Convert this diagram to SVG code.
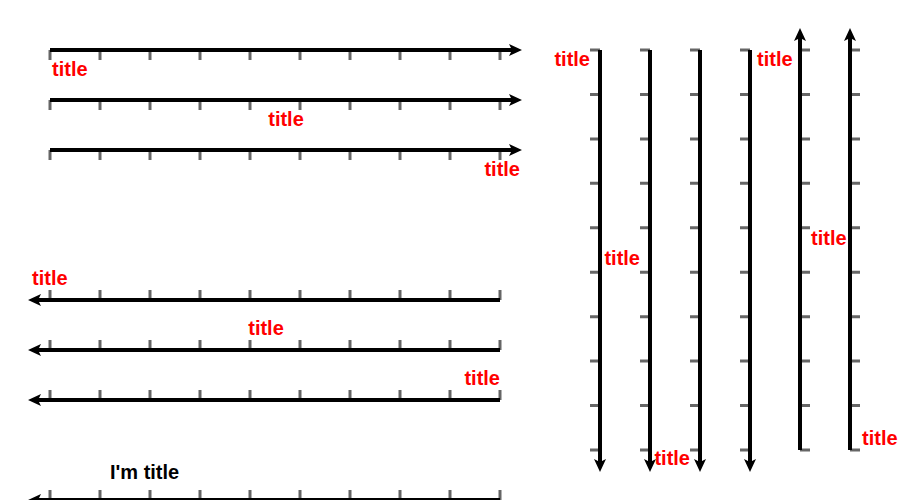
<svg xmlns="http://www.w3.org/2000/svg" width="900" height="500" viewBox="0 0 900 500">
<style>
.tick{fill:none;stroke:#666;stroke-width:3}
.axis{fill:none;stroke:#000;stroke-width:4}
.head{fill:#000;stroke:none}
.lbl{font-family:"Liberation Sans",Arial,sans-serif;font-weight:bold;font-size:20px;fill:#f00}
.blk{fill:#000}
</style>
<rect width="900" height="500" fill="#fff"/>
<g id="connectors">
<g id="axis-top-1">
<path class="tick" d="M50,50v10m50,-10v10m50,-10v10m50,-10v10m50,-10v10m50,-10v10m50,-10v10m50,-10v10m50,-10v10m50,-10v10"/>
<path class="axis" d="M50,50H512"/>
<polygon class="head" points="522,50 509,44 512,50 509,56"/>
<text class="lbl" x="52" y="76">title</text>
</g>
<g id="axis-top-2">
<path class="tick" d="M50,100v10m50,-10v10m50,-10v10m50,-10v10m50,-10v10m50,-10v10m50,-10v10m50,-10v10m50,-10v10m50,-10v10"/>
<path class="axis" d="M50,100H512"/>
<polygon class="head" points="522,100 509,94 512,100 509,106"/>
<text class="lbl" x="286" y="126" text-anchor="middle">title</text>
</g>
<g id="axis-top-3">
<path class="tick" d="M50,150v10m50,-10v10m50,-10v10m50,-10v10m50,-10v10m50,-10v10m50,-10v10m50,-10v10m50,-10v10m50,-10v10"/>
<path class="axis" d="M50,150H512"/>
<polygon class="head" points="522,150 509,144 512,150 509,156"/>
<text class="lbl" x="520" y="176" text-anchor="end">title</text>
</g>
<g id="axis-bottom-1">
<path class="tick" d="M50,290v10m50,-10v10m50,-10v10m50,-10v10m50,-10v10m50,-10v10m50,-10v10m50,-10v10m50,-10v10m50,-10v10"/>
<path class="axis" d="M500,300H38"/>
<polygon class="head" points="28,300 41,294 38,300 41,306"/>
<text class="lbl" x="32" y="285">title</text>
</g>
<g id="axis-bottom-2">
<path class="tick" d="M50,340v10m50,-10v10m50,-10v10m50,-10v10m50,-10v10m50,-10v10m50,-10v10m50,-10v10m50,-10v10m50,-10v10"/>
<path class="axis" d="M500,350H38"/>
<polygon class="head" points="28,350 41,344 38,350 41,356"/>
<text class="lbl" x="266" y="335" text-anchor="middle">title</text>
</g>
<g id="axis-bottom-3">
<path class="tick" d="M50,390v10m50,-10v10m50,-10v10m50,-10v10m50,-10v10m50,-10v10m50,-10v10m50,-10v10m50,-10v10m50,-10v10"/>
<path class="axis" d="M500,400H38"/>
<polygon class="head" points="28,400 41,394 38,400 41,406"/>
<text class="lbl" x="500" y="385" text-anchor="end">title</text>
</g>
<g id="axis-bottom-4">
<path class="tick" d="M50,490v10m50,-10v10m50,-10v10m50,-10v10m50,-10v10m50,-10v10m50,-10v10m50,-10v10m50,-10v10m50,-10v10"/>
<path class="axis" d="M500,500H38"/>
<polygon class="head" points="28,500 41,494 38,500 41,506"/>
<text class="lbl blk" x="110" y="479">I'm title</text>
</g>
<g id="axis-v-600">
<path class="tick" d="M590,50h10m-10,44.444h10m-10,44.444h10m-10,44.444h10m-10,44.444h10m-10,44.444h10m-10,44.444h10m-10,44.444h10m-10,44.444h10m-10,44.444h10"/>
<path class="axis" d="M600,50V462"/>
<polygon class="head" points="600,472 594,459 600,462 606,459"/>
<text class="lbl" x="590" y="66" text-anchor="end">title</text>
</g>
<g id="axis-v-650">
<path class="tick" d="M640,50h10m-10,44.444h10m-10,44.444h10m-10,44.444h10m-10,44.444h10m-10,44.444h10m-10,44.444h10m-10,44.444h10m-10,44.444h10m-10,44.444h10"/>
<path class="axis" d="M650,50V462"/>
<polygon class="head" points="650,472 644,459 650,462 656,459"/>
<text class="lbl" x="640" y="265" text-anchor="end">title</text>
</g>
<g id="axis-v-700">
<path class="tick" d="M690,50h10m-10,44.444h10m-10,44.444h10m-10,44.444h10m-10,44.444h10m-10,44.444h10m-10,44.444h10m-10,44.444h10m-10,44.444h10m-10,44.444h10"/>
<path class="axis" d="M700,50V462"/>
<polygon class="head" points="700,472 694,459 700,462 706,459"/>
<text class="lbl" x="690" y="465" text-anchor="end">title</text>
</g>
<g id="axis-v-750">
<path class="tick" d="M740,50h10m-10,44.444h10m-10,44.444h10m-10,44.444h10m-10,44.444h10m-10,44.444h10m-10,44.444h10m-10,44.444h10m-10,44.444h10m-10,44.444h10"/>
<path class="axis" d="M750,50V462"/>
<polygon class="head" points="750,472 744,459 750,462 756,459"/>
<text class="lbl" x="757" y="66">title</text>
</g>
<g id="axis-v-800">
<path class="tick" d="M800,50h10m-10,44.444h10m-10,44.444h10m-10,44.444h10m-10,44.444h10m-10,44.444h10m-10,44.444h10m-10,44.444h10m-10,44.444h10m-10,44.444h10"/>
<path class="axis" d="M800,450V38"/>
<polygon class="head" points="800,28 794,41 800,38 806,41"/>
<text class="lbl" x="811" y="245">title</text>
</g>
<g id="axis-v-850">
<path class="tick" d="M850,50h10m-10,44.444h10m-10,44.444h10m-10,44.444h10m-10,44.444h10m-10,44.444h10m-10,44.444h10m-10,44.444h10m-10,44.444h10m-10,44.444h10"/>
<path class="axis" d="M850,450V38"/>
<polygon class="head" points="850,28 844,41 850,38 856,41"/>
<text class="lbl" x="862" y="445">title</text>
</g>
</g>
</svg>
